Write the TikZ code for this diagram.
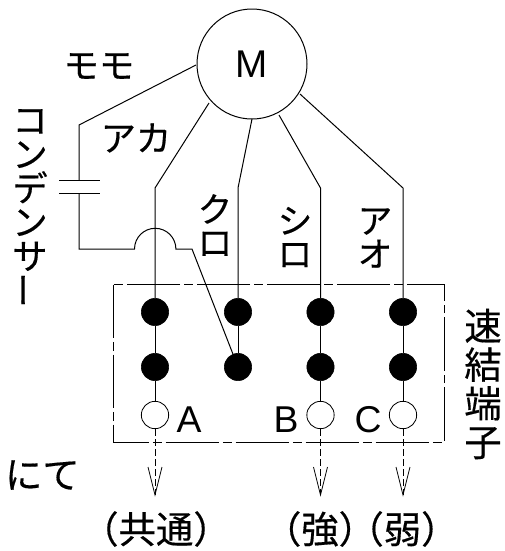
\documentclass[tikz,border=0pt]{standalone}
\usepackage{fontspec}
\setmainfont[FakeBold=0.4]{Noto Sans CJK JP}
\tikzset{
  x=0.75pt,y=-0.75pt,
  wire/.style={draw=black,line width=0.75pt},
  full/.style={circle,fill=black,draw=black,inner sep=0,minimum size=20.5pt},
  open/.style={circle,fill=white,draw=black,line width=0.6pt,inner sep=0,minimum size=20.5pt},
  lab/.style={inner sep=0,font=\fontsize{26.5pt}{26.5pt}\selectfont},
  lat/.style={inner sep=0,font=\fontspec{Liberation Sans}\fontsize{28pt}{28pt}\selectfont},
  cable/.style={inner sep=0,align=center,font=\fontsize{26pt}{25pt}\selectfont},
  paren/.style={inner sep=0,font=\fontsize{28pt}{28pt}\selectfont},
}
\begin{document}
\begin{tikzpicture}
\useasboundingbox (0,0) rectangle (505,551);
\fill[white] (0,0) rectangle (505,551);
% frame
\draw[wire,line width=0.6pt,dash pattern=on 40pt off 3pt on 6.5pt off 3pt] (113,284.5) rectangle (444,442);
% motor
\node[circle,draw=black,line width=0.75pt,minimum size=82.5pt,inner sep=0,font=\fontspec{Liberation Sans}\fontsize{29pt}{29pt}\selectfont] (m) at (252,64) {M};
\coordinate (ma) at (209,103);
\coordinate (mk) at (252,119);
\coordinate (ms) at (279,115);
\coordinate (mo) at (300,94);
\coordinate (mm) at (196,65);
% terminals
\foreach \n/\x in {a/155,b/238,c/320.5,d/403}{
  \node[full] (\n1) at (\x,312) {};
  \node[full] (\n2) at (\x,367) {};
}
\foreach \n/\x in {a/155,c/320.5,d/403}{
  \node[open] (\n3) at (\x,415) {};
  \coordinate (\n4) at (\x,495);
  \draw[wire,line width=0.6pt,dash pattern=on 5pt off 2.5pt] (\n3) -- (\n4);
  \draw[wire,line width=0.6pt] (\x-7,467) -- (\n4) -- (\x+7,467);
}
% wires
\coordinate (ab) at (155,188);
\coordinate (bb) at (238,188);
\coordinate (cb) at (320.5,188);
\coordinate (db) at (403,188);
\draw[wire] (ma) -- (ab) -- (a1);
\draw[wire] (mk) -- (bb) -- (b1);
\draw[wire] (ms) -- (cb) -- (c1);
\draw[wire] (mo) -- (db) -- (d1);
\foreach \n in {a,c,d}{ \draw[wire] (\n1) -- (\n2) -- (\n3); }
\draw[wire] (b1) -- (b2);
% capacitor wire
\coordinate (k1) at (79,125);
\coordinate (k2) at (79,180);
\coordinate (p1) at (59,180);
\coordinate (p2) at (100,180);
\coordinate (q1) at (59,193);
\coordinate (q2) at (100,193);
\coordinate (k3) at (79,193);
\coordinate (k4) at (79,249);
\coordinate (h1) at (134.5,249);
\coordinate (k5) at (192,249);
\draw[wire] (mm) -- (k1) -- (k2);
\draw[wire] (p1) -- (p2);
\draw[wire] (q1) -- (q2);
\draw[wire] (k3) -- (k4) -- (h1) arc[start angle=180,end angle=360,radius=20.7] -- (k5) -- (b2);
% labels
\node[lab] (t1) at (99,66) {モモ};
\node[lab] (t2) at (136,138) {アカ};
\node[cable] (t3) at (215,225) {ク\\ロ};
\node[cable] (t4) at (295,237) {シ\\ロ};
\node[cable] (t5) at (375,238) {ア\\オ};
\node[cable,font=\fontsize{26.5pt}{25.5pt}\selectfont] (t6) at (30,190) {コ\\ン\\デ\\ン\\サ};
\node[lab,rotate=90] (t6b) at (29,290) {ー};
\node[cable,font=\fontsize{28pt}{29pt}\selectfont] (t7) at (483,384) {速\\結\\端\\子};
\node[lat] (la) at (189,420) {A};
\node[lat] (lb) at (286,420) {B};
\node[lat] (lc) at (368,420) {C};
\node[lab,anchor=east,font=\fontsize{28pt}{28pt}\selectfont] (t8) at (80,475) {にて};
\node[paren] (p1t) at (156,529) {（共通）};
\node[paren] (p2t) at (320,529) {（強）};
\node[paren] (p3t) at (402.5,529) {（弱）};
\end{tikzpicture}
\end{document}
